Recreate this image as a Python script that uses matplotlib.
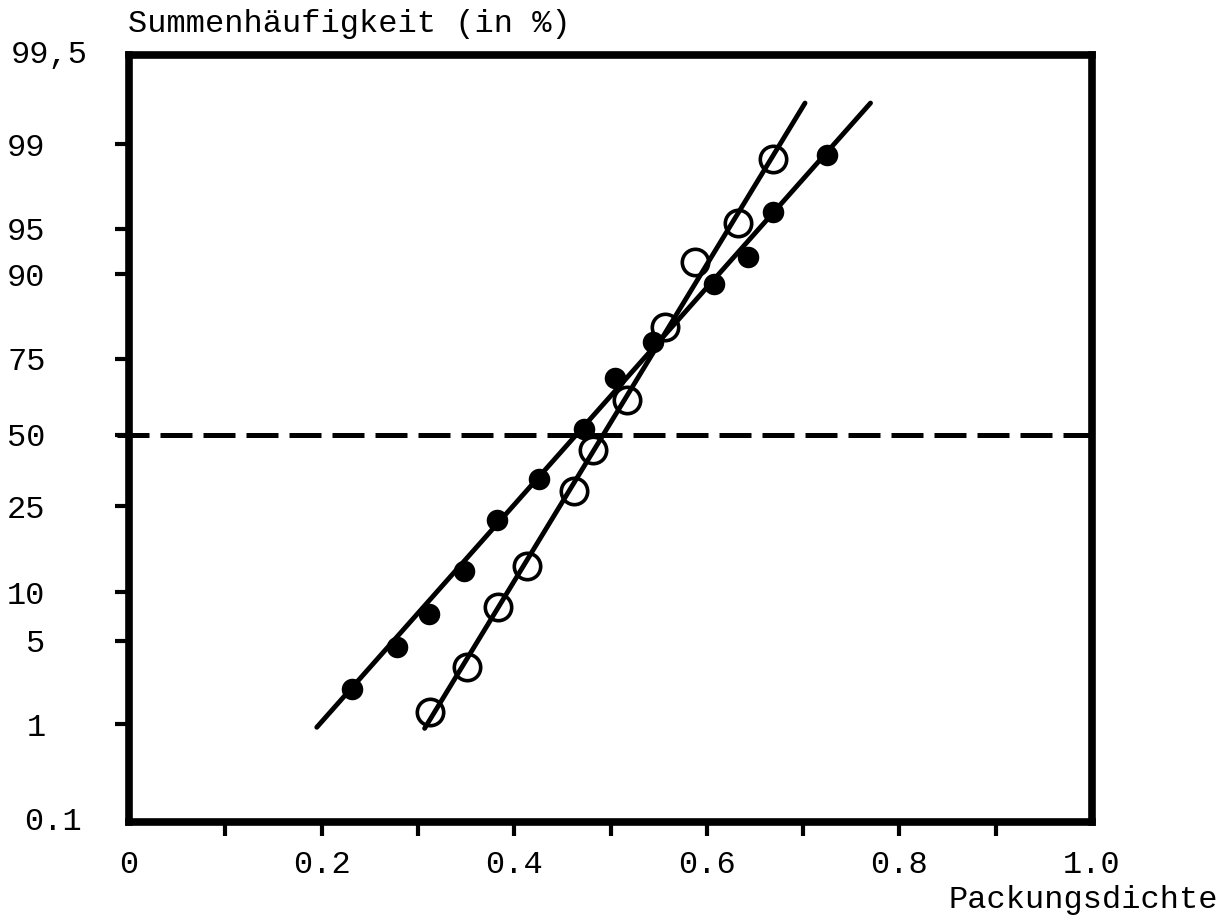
import numpy as np
import matplotlib
matplotlib.use("Agg")
import matplotlib.pyplot as plt

plt.rcParams["font.family"] = ["Liberation Mono", "DejaVu Sans Mono"]

# probability paper: printed percent lines and their height on the sheet
paper_pct = [0.1, 1, 5, 10, 25, 50, 75, 90, 95, 99, 99.5]
paper_pos = [0, 98, 181, 230, 316, 387, 463, 548, 593, 678, 767]

# filled dots
full_x = [0.232, 0.278, 0.312, 0.348, 0.382, 0.426, 0.472, 0.505, 0.544, 0.607, 0.643, 0.669, 0.725]
full_y = [2.7, 4.7, 7.8, 13.7, 22.6, 34.5, 52.0, 68.8, 78.0, 88.2, 91.9, 95.8, 98.5]
# open circles
open_x = [0.313, 0.351, 0.383, 0.413, 0.462, 0.482, 0.517, 0.557, 0.588, 0.632, 0.669]
open_y = [1.6, 3.75, 8.5, 14.5, 30.3, 44.7, 61.5, 80.6, 91.3, 95.3, 98.3]

# fitted straight lines (end points)
full_fit_x = [0.195, 0.770]
full_fit_y = [0.97, 99.23]
open_fit_x = [0.307, 0.702]
open_fit_y = [0.96, 99.23]

x_ticks = [0, 0.2, 0.4, 0.6, 0.8, 1.0]
x_labels = ["0", "0.2", "0.4", "0.6", "0.8", "1.0"]
y_ticks = [1, 5, 10, 25, 50, 75, 90, 95, 99]
y_labels = ["1", "5", "10", "25", "50", "75", "90", "95", "99"]


def fwd(p):
    return np.interp(p, paper_pct, paper_pos)


def inv(v):
    return np.interp(v, paper_pos, paper_pct)


fig = plt.figure(figsize=(12.26, 9.22), dpi=100)
ax = fig.add_axes([129 / 1226, 100 / 922, 963 / 1226, 767 / 922])
ax.set_yscale("function", functions=(fwd, inv))
ax.set_xlim(0, 1.0)
ax.set_ylim(0.1, 99.5)

for s in ax.spines.values():
    s.set_linewidth(5.5)

# 50 % line
ax.plot([-0.0125, 1.0], [50, 50], color="black", lw=3.6,
        linestyle=(0, (6.4, 2.2)), clip_on=False, zorder=2)

ax.plot(full_fit_x, full_fit_y, color="black", lw=3.5,
        solid_capstyle="round", zorder=3)
ax.plot(open_fit_x, open_fit_y, color="black", lw=3.5,
        solid_capstyle="round", zorder=3)

ax.plot(full_x, full_y, "o", color="black", ms=15.5, mew=0, zorder=4)
ax.plot(open_x, open_y, "o", mfc="none", mec="black", ms=19, mew=2.6, zorder=4)

ax.set_xticks(x_ticks, x_labels)
ax.set_xticks(np.arange(1, 10) / 10, minor=True)
ax.xaxis.remove_overlapping_locs = False
ax.tick_params(axis="x", which="major", length=0, pad=20, labelsize=23)
ax.tick_params(axis="x", which="minor", length=10, width=3, direction="out")

ax.set_yticks(y_ticks, y_labels)
ax.yaxis.set_minor_locator(matplotlib.ticker.NullLocator())
ax.tick_params(axis="y", which="major", length=10, width=3, direction="out",
               pad=50, labelsize=23)

tr = ax.get_yaxis_transform()
ax.text(-0.0426, 99.5, "99,5", transform=tr, ha="right", va="center",
        fontsize=23, clip_on=False)
ax.text(-0.049, 0.1, "0.1", transform=tr, ha="right", va="center",
        fontsize=23, clip_on=False)

fig.text(128 / 1226, 1 - 32 / 922, "Summenhäufigkeit (in %)", ha="left",
         va="baseline", fontsize=23)
fig.text(1218 / 1226, 1 - 908 / 922, "Packungsdichte", ha="right",
         va="baseline", fontsize=23)

fig.savefig("out.png", dpi=100)
